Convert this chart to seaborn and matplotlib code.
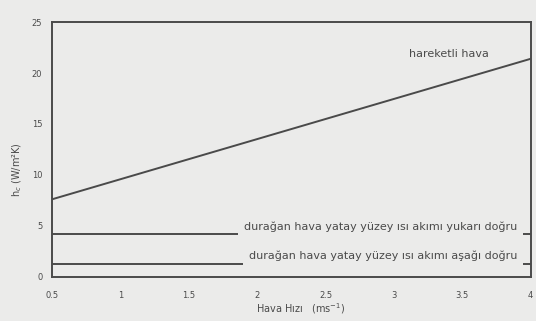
import numpy as np
import pandas as pd
import matplotlib
matplotlib.use("Agg")
import matplotlib.pyplot as plt
import seaborn as sns

# data
hiz = [0.5, 4.0]
hareketli = [7.6, 21.4]
yukari = [4.2, 4.2]
asagi = [1.2, 1.2]

x_ticks = [0.5, 1, 1.5, 2, 2.5, 3, 3.5, 4]
x_tick_labels = ["0.5", "1", "1.5", "2", "2.5", "3", "3.5", "4"]
y_ticks = [0, 5, 10, 15, 20, 25]

lbl_hareketli = "hareketli hava"
lbl_yukari = "durağan hava yatay yüzey ısı akımı yukarı doğru"
lbl_asagi = "durağan hava yatay yüzey ısı akımı aşağı doğru"

df = pd.DataFrame({"hiz": hiz * 3,
                   "hc": hareketli + yukari + asagi,
                   "seri": ["h"] * 2 + ["u"] * 2 + ["a"] * 2})

bg = "#ebebea"
ink = "#4a4a4a"

sns.set_style("white")
plt.rcParams["font.family"] = ["DejaVu Sans"]

fig = plt.figure(figsize=(5.36, 3.21), dpi=100, facecolor=bg)
ax = fig.add_axes([0.097, 0.138, 0.893, 0.793])
ax.set_facecolor(bg)

sns.lineplot(data=df, x="hiz", y="hc", units="seri", estimator=None,
             color=ink, linewidth=1.4, ax=ax, legend=False)

ax.set_xlim(0.5, 4)
ax.set_ylim(0, 25)
ax.set_xticks(x_ticks)
ax.set_xticklabels(x_tick_labels)
ax.set_yticks(y_ticks)
ax.tick_params(axis="x", length=0, labelsize=6, colors=ink, pad=10)
ax.tick_params(axis="y", length=0, labelsize=6, colors=ink, pad=7)
for s in ax.spines.values():
    s.set_color(ink)
    s.set_linewidth(1.4)

ax.set_xlabel("Hava Hızı   (ms$^{-1}$)", fontsize=7, color=ink)
ax.xaxis.set_label_coords(0.52, -0.095)
ax.set_ylabel("h$_c$ (W/m²K)", fontsize=7, color=ink)
ax.yaxis.set_label_coords(-0.058, 0.42)

box = dict(facecolor=bg, edgecolor="none", pad=4)
ax.text(3.40, 21.9, lbl_hareketli, fontsize=8, color=ink, ha="center", va="center")
ax.text(3.90, 4.9, lbl_yukari, fontsize=8, color=ink, ha="right", va="center", bbox=box)
ax.text(3.90, 2.05, lbl_asagi, fontsize=8, color=ink, ha="right", va="center", bbox=box)

fig.savefig("out.png", dpi=100, facecolor=bg)
